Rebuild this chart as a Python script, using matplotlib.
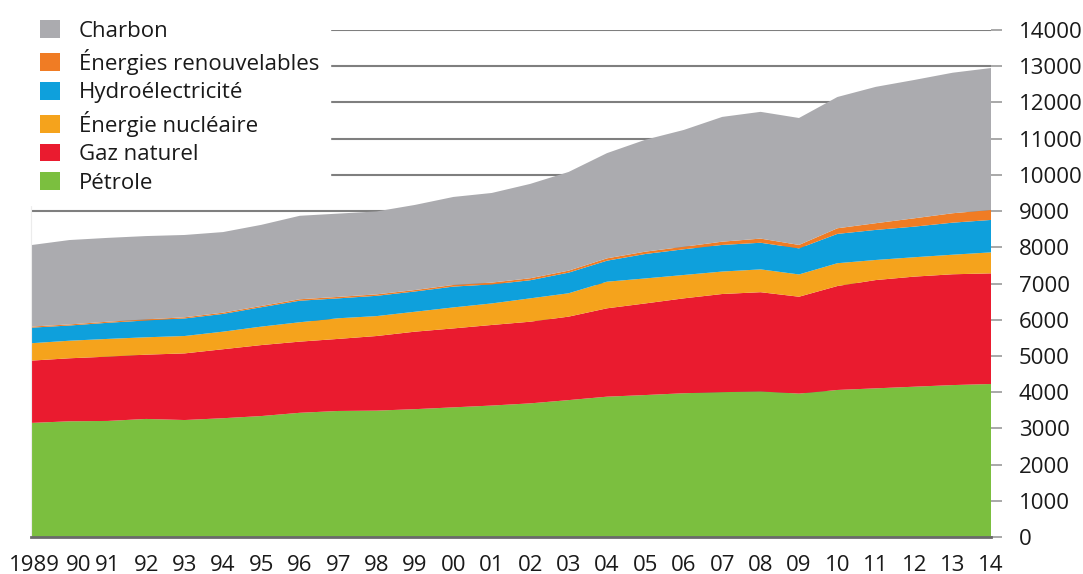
import numpy as np
import matplotlib.pyplot as plt
import matplotlib.transforms as mtransforms

plt.rcParams['font.family'] = ['Open Sans', 'DejaVu Sans']

years = list(range(1989, 2015))
year_labels = ["1989"] + [f"{y % 100:02d}" for y in years[1:]]

petrole = [3150, 3195, 3205, 3260, 3230, 3280, 3340, 3430, 3480, 3490, 3530, 3580, 3630,
           3690, 3780, 3875, 3920, 3970, 4000, 4020, 3960, 4060, 4105, 4150, 4195, 4225]
gaz = [1720, 1740, 1775, 1775, 1840, 1905, 1960, 1965, 1990, 2060, 2140, 2180, 2225,
       2255, 2305, 2440, 2530, 2620, 2710, 2740, 2675, 2870, 2990, 3040, 3060, 3055]
nucleaire = [480, 485, 490, 480, 480, 485, 510, 535, 570, 550, 550, 580, 595,
             645, 645, 735, 690, 645, 620, 630, 615, 630, 555, 535, 540, 580]
hydro = [430, 420, 445, 465, 485, 490, 535, 595, 550, 560, 560, 575, 525,
         500, 570, 580, 675, 710, 735, 735, 720, 810, 830, 845, 885, 895]
renouvelables = [30, 30, 30, 30, 32, 35, 35, 40, 40, 40, 40, 45, 50,
                 55, 55, 65, 65, 70, 90, 115, 95, 155, 185, 230, 260, 275]
charbon = [2250, 2330, 2315, 2300, 2273, 2225, 2240, 2305, 2300, 2290, 2350, 2430, 2475,
           2605, 2725, 2905, 3090, 3225, 3445, 3500, 3505, 3625, 3765, 3820, 3880, 3920]

labels = ["Pétrole", "Gaz naturel", "Énergie nucléaire", "Hydroélectricité",
          "Énergies renouvelables", "Charbon"]
colors = ["#7bbf3f", "#ea1b2f", "#f5a31c", "#0ea0dc", "#f07c24", "#ababaf"]

fig = plt.figure(figsize=(10.83, 5.74), dpi=100)
ax = fig.add_axes([31 / 1083, 37 / 574, 960 / 1083, 507 / 574])

ax.stackplot(years, petrole, gaz, nucleaire, hydro, renouvelables, charbon,
             colors=colors, labels=labels, linewidth=0)

ax.set_xlim(1989, 2014)
ax.set_ylim(0, 14000)
ax.set_axisbelow(True)
ax.grid(axis="y", color="#7f7f7f", linewidth=1.5)

ax.yaxis.tick_right()
ax.set_yticks(range(0, 14001, 1000))
ax.tick_params(axis="y", length=8, width=1.2, color="#9a9a9a", pad=12,
               labelsize=16, labelcolor="#1a1a1a")
ax.set_xticks(years)
ax.set_xticklabels(year_labels)
ax.tick_params(axis="x", length=0, pad=13, labelsize=16, labelcolor="#1a1a1a")

# the first two labels sit a bit to the right in the original
for lab, dx in zip(ax.get_xticklabels()[:2], [3, 9]):
    lab.set_transform(lab.get_transform() + mtransforms.ScaledTranslation(dx / 100, 0, fig.dpi_scale_trans))

for side in ["top", "right"]:
    ax.spines[side].set_visible(False)
ax.spines["left"].set_color("#ececec")
ax.spines["bottom"].set_color("#6a6a6a")
ax.spines["bottom"].set_linewidth(2)

handles, labs = ax.get_legend_handles_labels()
leg = ax.legend(handles[::-1], labs[::-1], loc="upper left",
                bbox_to_anchor=(29 / 1083, 1 - 9 / 574), bbox_transform=fig.transFigure,
                fontsize=16, frameon=True, facecolor="white", edgecolor="white",
                framealpha=1, fancybox=False, handlelength=0.9, handleheight=0.85,
                handletextpad=0.85, labelspacing=0.32, borderpad=0.5, borderaxespad=0)
for t in leg.get_texts():
    t.set_color("#1a1a1a")

fig.savefig("out.png", dpi=100)
